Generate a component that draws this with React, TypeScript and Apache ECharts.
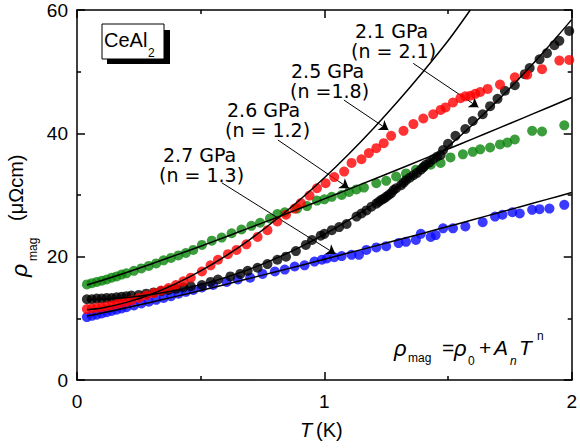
import React, { useEffect, useRef } from "react";
import * as echarts from "echarts";

// ---- data (T in K, rho_mag in µΩcm) ----
const blueData: [number, number][] = [
  [0.04, 10.2], [0.06, 10.4], [0.08, 10.6], [0.1, 10.8], [0.12, 11.0], [0.14, 11.2], [0.16, 11.4], [0.18, 11.6],
  [0.2, 11.8], [0.23, 12.1], [0.26, 12.4], [0.29, 12.7], [0.32, 13.0], [0.35, 13.3], [0.38, 13.6], [0.41, 14.0],
  [0.44, 14.3], [0.47, 14.6], [0.505, 15.0], [0.55, 15.4], [0.605, 15.9], [0.65, 16.3], [0.7, 16.6], [0.75, 17.2],
  [0.8, 17.6], [0.84, 17.9], [0.88, 18.4], [0.92, 18.6], [0.96, 19.2], [0.99, 19.5], [1.01, 19.7], [1.04, 19.9],
  [1.07, 20.1], [1.11, 20.3], [1.14, 20.3], [1.17, 21.1], [1.21, 21.5], [1.25, 21.7], [1.3, 22.2], [1.33, 22.4],
  [1.37, 22.7], [1.39, 23.7], [1.43, 23.2], [1.45, 23.5], [1.48, 24.6], [1.52, 24.6], [1.57, 24.9], [1.64, 25.6],
  [1.69, 26.5], [1.72, 26.8], [1.76, 27.2], [1.79, 27.0], [1.84, 27.6], [1.87, 27.7], [1.91, 27.8], [1.97, 28.4],
];
const greenData: [number, number][] = [
  [0.04, 15.5], [0.06, 15.7], [0.08, 15.9], [0.1, 16.1], [0.12, 16.3], [0.14, 16.6], [0.16, 16.8], [0.18, 17.1],
  [0.2, 17.3], [0.23, 17.7], [0.26, 18.1], [0.29, 18.5], [0.32, 18.9], [0.35, 19.4], [0.38, 19.8], [0.41, 20.2],
  [0.44, 20.6], [0.47, 21.1], [0.505, 21.9], [0.545, 22.6], [0.585, 23.1], [0.625, 23.8], [0.665, 24.4], [0.705, 25.0],
  [0.74, 25.5], [0.78, 26.2], [0.81, 26.9], [0.84, 27.2], [0.89, 27.8], [0.93, 28.2], [0.97, 29.1], [1.0, 29.3],
  [1.03, 29.7], [1.07, 30.0], [1.1, 30.5], [1.13, 30.9], [1.16, 31.2], [1.21, 31.9], [1.25, 32.3], [1.29, 33.0],
  [1.33, 33.5], [1.37, 34.1], [1.4, 34.5], [1.43, 34.9], [1.47, 35.2], [1.51, 36.1], [1.56, 36.6], [1.6, 37.0],
  [1.63, 37.4], [1.67, 37.7], [1.71, 38.2], [1.74, 38.5], [1.77, 39.0], [1.84, 40.4], [1.88, 40.3], [1.97, 41.3],
];
const blackData: [number, number][] = [
  [0.04, 13.1], [0.06, 13.1], [0.08, 13.2], [0.1, 13.2], [0.12, 13.3], [0.14, 13.3], [0.16, 13.4], [0.18, 13.5],
  [0.2, 13.6], [0.22, 13.7], [0.25, 13.8], [0.28, 14.0], [0.31, 14.2], [0.34, 14.4], [0.37, 14.6], [0.4, 14.8],
  [0.43, 15.0], [0.46, 15.2], [0.505, 15.4], [0.54, 15.9], [0.57, 16.3], [0.62, 16.8], [0.66, 17.2], [0.69, 17.7],
  [0.73, 18.2], [0.77, 18.8], [0.81, 19.5], [0.845, 20.0], [0.885, 20.9], [0.925, 21.9], [0.95, 22.7], [0.985, 23.4],
  [1.0, 23.7], [1.03, 24.3], [1.06, 24.8], [1.09, 25.3], [1.13, 26.5], [1.15, 27.0], [1.17, 27.5], [1.19, 28.1],
  [1.21, 28.6], [1.22, 28.9], [1.23, 29.2], [1.24, 29.4], [1.25, 29.7], [1.26, 30.0], [1.27, 30.3], [1.28, 30.8],
  [1.29, 31.1], [1.31, 31.6], [1.32, 32.0], [1.33, 32.4], [1.345, 32.8], [1.36, 33.2], [1.375, 33.6], [1.39, 34.1],
  [1.4, 34.5], [1.41, 34.9], [1.425, 35.3], [1.44, 35.8], [1.455, 36.2], [1.47, 36.5], [1.48, 37.3], [1.5, 38.3],
  [1.53, 39.6], [1.57, 40.7], [1.6, 42.0], [1.64, 43.1], [1.67, 44.4], [1.7, 45.6], [1.73, 46.9], [1.77, 47.8],
  [1.81, 49.6], [1.83, 50.6], [1.87, 52.0], [1.9, 53.0], [1.93, 54.3], [1.95, 55.0], [1.99, 56.6],
];
const redData: [number, number][] = [
  [0.04, 11.5], [0.06, 11.6], [0.08, 11.7], [0.1, 11.8], [0.12, 11.9], [0.14, 12.1], [0.16, 12.3], [0.18, 12.5],
  [0.2, 12.7], [0.22, 12.9], [0.25, 13.3], [0.28, 13.7], [0.31, 14.1], [0.34, 14.5], [0.37, 14.9], [0.4, 15.4],
  [0.43, 16.0], [0.46, 16.6], [0.505, 17.6], [0.54, 18.6], [0.57, 19.5], [0.61, 20.4], [0.645, 21.1], [0.685, 22.0],
  [0.73, 23.2], [0.77, 24.3], [0.81, 25.7], [0.845, 26.8], [0.88, 27.8], [0.905, 28.7], [0.94, 29.9], [0.97, 31.1],
  [1.005, 31.9], [1.04, 32.9], [1.08, 33.8], [1.11, 35.2], [1.15, 35.8], [1.18, 36.8], [1.21, 37.6], [1.24, 38.4],
  [1.27, 39.6], [1.32, 40.4], [1.36, 41.5], [1.4, 42.4], [1.44, 43.1], [1.47, 43.8], [1.49, 44.2], [1.52, 45.0],
  [1.55, 45.7], [1.57, 46.0], [1.59, 46.1], [1.61, 46.4], [1.63, 46.7], [1.66, 47.2], [1.71, 47.9], [1.77, 49.1],
  [1.82, 49.5], [1.88, 50.4], [1.95, 51.8], [1.99, 51.9],
];

// fit curves rho = rho0 + A T^n
const fitT = [0.04, 0.1, 0.2, 0.3, 0.4, 0.5, 0.6, 0.7, 0.8, 0.9, 1.0, 1.1, 1.2, 1.3, 1.4, 1.5, 1.6, 1.7, 1.8, 1.9, 2.0];
const fitBlue = [10.37, 10.85, 11.71, 12.62, 13.56, 14.52, 15.5, 16.5, 17.51, 18.53, 19.57, 20.62, 21.67, 22.74, 23.81, 24.89, 25.98, 27.08, 28.18, 29.29, 30.4];
const fitGreen = [15.42, 16.14, 17.44, 18.82, 20.25, 21.7, 23.19, 24.71, 26.24, 27.8, 29.37, 30.96, 32.56, 34.18, 35.81, 37.45, 39.1, 40.76, 42.43, 44.11, 45.81];
const fitTRed = [0.04, 0.1, 0.2, 0.3, 0.4, 0.5, 0.6, 0.7, 0.8, 0.9, 1.0, 1.1, 1.2, 1.3, 1.4, 1.5, 1.59];
const fitRed = [11.38, 11.68, 12.59, 13.91, 15.62, 17.69, 20.09, 22.82, 25.86, 29.19, 32.8, 36.7, 40.88, 45.33, 50.04, 55.01, 60.0];
const fitBlack = [13.01, 13.08, 13.36, 13.85, 14.55, 15.47, 16.63, 18.01, 19.64, 21.5, 23.6, 25.95, 28.54, 31.39, 34.49, 37.84, 41.44, 45.3, 49.42, 53.81, 58.44];

const xTicks = [0, 1, 2];
const yTicks = [0, 20, 40, 60];

// annotation arrows [T1, rho1, T2, rho2] and labels
const arrows: [number, number, number, number][] = [
  [1.359, 51.35, 1.623, 44.22],
  [1.079, 45.4, 1.259, 40.54],
  [0.812, 38.92, 1.099, 31.09],
  [0.585, 31.99, 1.045, 20.43],
];
const pressureLabels = ["2.1 GPa", "2.5 GPa", "2.6 GPa", "2.7 GPa"];
const exponentLabels = ["(n = 2.1)", "(n =1.8)", "(n = 1.2)", "(n = 1.3)"];

const FONT = "Liberation Sans, Arial, sans-serif";
const ANNOT_FONT = "DejaVu Sans, sans-serif";

const txt = (text: string, x: number, y: number, size: number, extra: any = {}) => ({
  type: "text",
  x,
  y,
  silent: true,
  style: {
    text,
    fontSize: size,
    fontFamily: FONT,
    fill: "#000",
    align: "left",
    verticalAlign: "middle",
    textAlign: "left",
    textVerticalAlign: "middle",
    ...extra,
  },
});

export default function App() {
  const ref = useRef<HTMLDivElement>(null);
  useEffect(() => {
    if (!ref.current) return;
    const chart = echarts.init(ref.current, undefined, { renderer: "svg" });
    const axisCommon = {
      type: "value",
      axisLine: { show: true, onZero: false, lineStyle: { color: "#000", width: 1.5 } },
      axisTick: { show: true, inside: true, length: 8, lineStyle: { color: "#000", width: 1.5 } },
      minorTick: { show: true, splitNumber: 2, length: 4, lineStyle: { color: "#000", width: 1.5 } },
      splitLine: { show: false },
      minorSplitLine: { show: false },
    };
    const labelPos = [
      { x: 355, y: 31 }, { x: 291, y: 71 }, { x: 227, y: 110 }, { x: 163, y: 155 },
    ];
    const label2Pos = [
      { x: 351, y: 51 }, { x: 290, y: 91 }, { x: 225, y: 130 }, { x: 159, y: 175 },
    ];
    const graphic: any[] = [];
    pressureLabels.forEach((s, i) =>
      graphic.push(txt(s, labelPos[i].x, labelPos[i].y, 19, { fontFamily: ANNOT_FONT, lineHeight: 18 }))
    );
    exponentLabels.forEach((s, i) =>
      graphic.push(txt(s, label2Pos[i].x, label2Pos[i].y, 19, { fontFamily: ANNOT_FONT, lineHeight: 18 }))
    );
    // CeAl2 box
    graphic.push({ type: "rect", shape: { x: 107, y: 30, width: 63, height: 34 }, style: { fill: "#000" }, silent: true });
    graphic.push({ type: "rect", shape: { x: 102, y: 24, width: 62, height: 35 }, style: { fill: "#fff", stroke: "#000", lineWidth: 1 }, silent: true });
    graphic.push(txt("CeAl", 104, 40, 20));
    graphic.push(txt("2", 148, 53, 12));
    // equation
    graphic.push(txt("ρ", 394, 348, 22, { fontStyle: "italic" }));
    graphic.push(txt("mag", 408, 358, 12));
    graphic.push(txt("=", 442, 347, 21));
    graphic.push(txt("ρ", 454, 348, 22, { fontStyle: "italic" }));
    graphic.push(txt("0", 468, 361, 12));
    graphic.push(txt("+", 479, 347, 21));
    graphic.push(txt("A", 494, 347, 21, { fontStyle: "italic" }));
    graphic.push(txt("n", 510, 361, 12, { fontStyle: "italic" }));
    graphic.push(txt("T", 519, 347, 21, { fontStyle: "italic" }));
    graphic.push(txt("n", 537, 336, 12));
    // x axis title
    graphic.push(txt("T", 300, 430, 20, { fontStyle: "italic" }));
    graphic.push(txt("(K)", 316, 430, 20));
    // y axis title (rotated)
    graphic.push({
      type: "group",
      x: 19,
      y: 277,
      rotation: Math.PI / 2,
      children: [
        txt("ρ", 0, 0, 23, { fontStyle: "italic" }),
        txt("mag", 16, 14, 12),
        txt("(μΩcm)", 56, -3, 20),
      ],
    });

    const scatter = (data: [number, number][], color: string, z: number) => ({
      type: "scatter",
      data,
      symbol: "circle",
      symbolSize: 10,
      itemStyle: { color },
      z,
      silent: true,
    });
    const fit = (ts: number[], vals: number[]) => ({
      type: "line",
      data: ts.map((t, i) => [t, vals[i]]),
      showSymbol: false,
      smooth: 0.3,
      lineStyle: { color: "#000", width: 1.5 },
      z: 10,
      silent: true,
      clip: true,
    });

    chart.setOption({
      animation: false,
      grid: { left: 77, right: 3, top: 10, bottom: 68, containLabel: false },
      xAxis: [
        {
          ...axisCommon,
          min: 0, max: 2, interval: 1, position: "bottom",
          axisLabel: {
            show: true, color: "#000", fontSize: 19, fontFamily: FONT, margin: 12,
            formatter: (v: number) => (xTicks.includes(v) ? String(v) : ""),
          },
        },
        { ...axisCommon, min: 0, max: 2, interval: 1, position: "top", axisLabel: { show: false } },
      ],
      yAxis: [
        {
          ...axisCommon,
          min: 0, max: 60, interval: 20, position: "left",
          axisLabel: {
            show: true, color: "#000", fontSize: 19, fontFamily: FONT, margin: 9,
            formatter: (v: number) => (yTicks.includes(v) ? String(v) : ""),
          },
        },
        { ...axisCommon, min: 0, max: 60, interval: 20, position: "right", axisLabel: { show: false } },
      ],
      series: [
        scatter(greenData, "#0a840a", 2),
        scatter(blueData, "#0a0aff", 3),
        scatter(blackData, "#000000", 4),
        scatter(redData, "#ff0000", 5),
        fit(fitT, fitBlue),
        fit(fitT, fitGreen),
        fit(fitTRed, fitRed),
        {
          ...fit(fitT, fitBlack),
          markLine: {
            silent: true,
            symbol: ["none", "arrow"],
            symbolSize: 9,
            label: { show: false },
            lineStyle: { color: "#000", width: 1, type: "solid" },
            emphasis: { disabled: true },
            data: arrows.map((a) => [{ coord: [a[0], a[1]] }, { coord: [a[2], a[3]] }]),
          },
        },
      ],
      graphic,
    });
    return () => chart.dispose();
  }, []);
  return <div ref={ref} style={{ width: 580, height: 448, position: "fixed", left: 0, top: 0, background: "#fff" }} />;
}
